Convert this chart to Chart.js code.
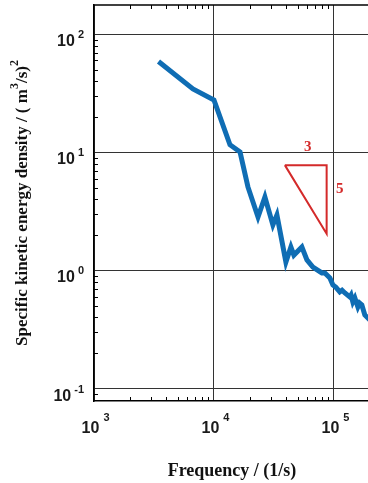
<!DOCTYPE html>
<html>
<head>
<meta charset="utf-8">
<script src="https://cdn.jsdelivr.net/npm/chart.js@4"></script>
<style>
  html, body { margin: 0; padding: 0; background: #fff; }
  #wrap { width: 368px; height: 483px; overflow: hidden; }
  canvas { display: block; }
</style>
</head>
<body>
<div id="wrap"><canvas id="spectrum" width="380" height="483"></canvas></div>
<script>
// measured spectrum
const frequency = [3450, 6680, 10000, 13600, 16500, 19200, 23300, 26600, 31000, 33500,
                   39800, 43800, 46400, 54100, 59600, 66800, 79400, 84100, 92600, 98100,
                   104000, 112000, 117000, 123500, 135900, 139000, 143900, 149600, 158500, 164000,
                   171000, 181100, 192000, 205000];
const energy = [58.9, 34.4, 27.8, 11.6, 10.1, 5.1, 2.84, 4.19, 2.43, 2.95,
                1.18, 1.58, 1.35, 1.58, 1.23, 1.07, 0.953, 0.953, 0.865, 0.755,
                0.72, 0.658, 0.68, 0.645, 0.597, 0.62, 0.542, 0.586, 0.491, 0.53,
                0.511, 0.420, 0.396, 0.37];

// -5/3 slope guide
const slopeX = [39000, 87000, 87000, 39000];
const slopeY = [7.8, 7.8, 2.05, 7.8];
const slopeLabels = ['3', '5'];

// axis decades (exponents)
const xDecades = [3, 4, 5];
const yDecades = [2, 1, 0, -1];

const BLUE = '#0f6db4';
const RED = '#d42a2a';
const GRID = '#333333';
const SANS = '"Liberation Sans", Arial, sans-serif';
const SERIF = '"Liberation Serif", "Times New Roman", serif';

function isDecade(v) {
    const l = Math.log10(v);
    return Math.abs(l - Math.round(l)) < 1e-6;
}

// draws text runs, some of them raised as superscripts, starting at x
function drawRuns(ctx, runs, x, y) {
    runs.forEach(r => {
        ctx.font = r.font;
        ctx.fillText(r.text, x, y - (r.rise || 0));
        x += ctx.measureText(r.text).width + (r.after || 0);
    });
}

function runsWidth(ctx, runs) {
    let w = 0;
    runs.forEach(r => {
        ctx.font = r.font;
        w += ctx.measureText(r.text).width + (r.after || 0);
    });
    return w;
}

const axesDecor = {
    id: 'axesDecor',
    beforeDatasetsDraw(chart) {
        const { ctx, chartArea: a, scales: { x, y } } = chart;
        ctx.save();
        ctx.strokeStyle = '#000';
        ctx.lineWidth = 1.5;
        // top frame
        ctx.beginPath();
        ctx.moveTo(a.left, a.top);
        ctx.lineTo(a.right, a.top);
        ctx.stroke();

        // minor ticks, pointing inward
        ctx.lineWidth = 1;
        ctx.beginPath();
        for (let e = 2; e <= 6; e++) {
            for (let k = 2; k <= 9; k++) {
                const v = k * Math.pow(10, e);
                if (v <= x.min || v >= x.max) continue;
                const px = Math.round(x.getPixelForValue(v)) + 0.5;
                ctx.moveTo(px, a.bottom); ctx.lineTo(px, a.bottom - 4);
                ctx.moveTo(px, a.top); ctx.lineTo(px, a.top + 4);
            }
        }
        for (let e = -3; e <= 3; e++) {
            for (let k = 2; k <= 9; k++) {
                const v = k * Math.pow(10, e);
                if (v <= y.min || v >= y.max) continue;
                const py = Math.round(y.getPixelForValue(v)) + 0.5;
                ctx.moveTo(a.left, py); ctx.lineTo(a.left + 4, py);
            }
        }
        ctx.stroke();
        ctx.restore();
    },
    afterDraw(chart) {
        const { ctx, chartArea: a, scales: { x, y } } = chart;
        ctx.save();
        ctx.fillStyle = '#1a1a1a';
        ctx.textBaseline = 'alphabetic';
        ctx.textAlign = 'left';
        const base = 'bold 16px ' + SANS;
        const sup = 'bold 11px ' + SANS;

        // y tick labels: 10^n, right aligned
        yDecades.forEach(e => {
            const py = y.getPixelForValue(Math.pow(10, e));
            const runs = [{ text: '10', font: base, after: 3 }, { text: String(e), font: sup, rise: 8 }];
            const w = runsWidth(ctx, runs);
            drawRuns(ctx, runs, a.left - 10 - w, py + 12);
        });

        // x tick labels
        xDecades.forEach(e => {
            const px = x.getPixelForValue(Math.pow(10, e));
            ctx.font = base;
            const w10 = ctx.measureText('10').width;
            const runs = [{ text: '10', font: base, after: 4 }, { text: String(e), font: sup, rise: 12 }];
            drawRuns(ctx, runs, px - 3.5 - w10 / 2, a.bottom + 32);
        });

        // axis titles
        ctx.fillStyle = '#111';
        ctx.font = 'bold 18px ' + SERIF;
        ctx.textAlign = 'center';
        ctx.fillText('Frequency / (1/s)', (a.left + a.right) / 2, 476);

        const titleRuns = [
            { text: 'Specific kinetic energy density / ( m', font: 'bold 17px ' + SERIF },
            { text: '3', font: 'bold 12px ' + SERIF, rise: 9 },
            { text: '/s)', font: 'bold 17px ' + SERIF },
            { text: '2', font: 'bold 12px ' + SERIF, rise: 9 }
        ];
        ctx.textAlign = 'left';
        ctx.translate(27, (a.top + a.bottom) / 2);
        ctx.rotate(-Math.PI / 2);
        drawRuns(ctx, titleRuns, -runsWidth(ctx, titleRuns) / 2, 0);
        ctx.restore();

        // slope labels next to the guide triangle
        ctx.save();
        ctx.fillStyle = RED;
        ctx.font = 'bold 15px ' + SERIF;
        ctx.textAlign = 'center';
        ctx.textBaseline = 'middle';
        const xMid = Math.sqrt(slopeX[0] * slopeX[1]);
        const yMid = Math.sqrt(slopeY[1] * slopeY[2]);
        ctx.fillText(slopeLabels[0], x.getPixelForValue(xMid) + 2, y.getPixelForValue(slopeY[0]) - 18);
        ctx.fillText(slopeLabels[1], x.getPixelForValue(slopeX[1]) + 13, y.getPixelForValue(yMid) - 10);
        ctx.restore();
    }
};

const gridColor = c => isDecade(c.tick.value) ? GRID : 'rgba(0,0,0,0)';

new Chart(document.getElementById('spectrum'), {
    type: 'line',
    data: {
        datasets: [
            {
                data: frequency.map((f, i) => ({ x: f, y: energy[i] })),
                borderColor: BLUE,
                borderWidth: 5,
                pointRadius: 0,
                tension: 0,
                fill: false
            },
            {
                data: slopeX.map((f, i) => ({ x: f, y: slopeY[i] })),
                borderColor: RED,
                borderWidth: 2,
                pointRadius: 0,
                tension: 0,
                fill: false
            }
        ]
    },
    options: {
        responsive: false,
        animation: false,
        layout: { padding: { top: 5, right: 10, left: 0, bottom: 0 } },
        plugins: { legend: { display: false }, tooltip: { enabled: false } },
        scales: {
            x: {
                type: 'logarithmic',
                min: 1000,
                max: 2e5,
                ticks: { display: false, autoSkip: false },
                grid: { color: gridColor, lineWidth: 1, drawTicks: false },
                border: { color: '#000', width: 1.5 },
                afterFit: s => { s.height = 82; }
            },
            y: {
                type: 'logarithmic',
                min: 0.0785,
                max: 177,
                ticks: { display: false, autoSkip: false },
                grid: { color: gridColor, lineWidth: 1, drawTicks: false },
                border: { color: '#000', width: 1.5 },
                afterFit: s => { s.width = 94; }
            }
        }
    },
    plugins: [axesDecor]
});
</script>
</body>
</html>
